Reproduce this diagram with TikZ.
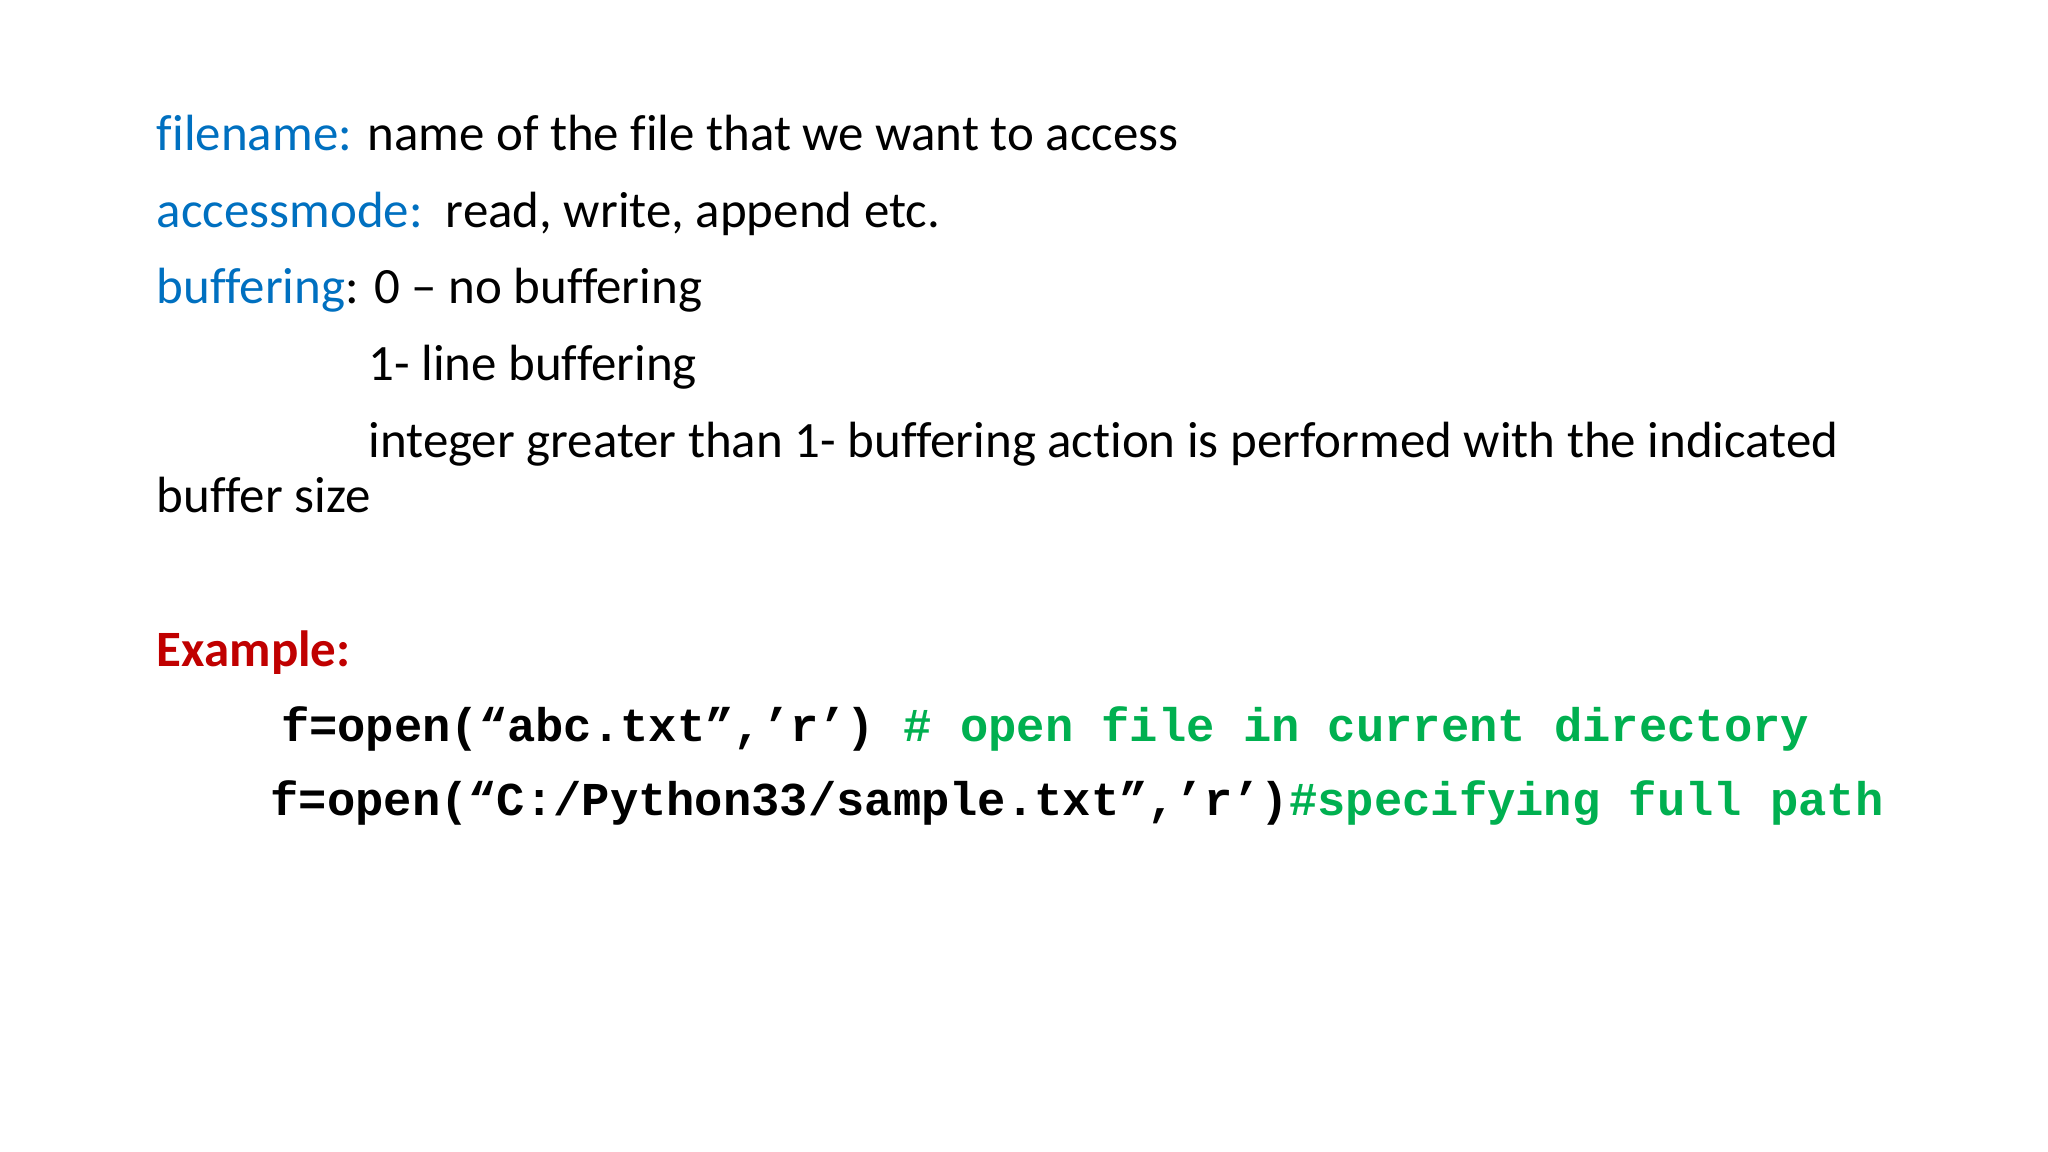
\documentclass[tikz,border=0pt]{standalone}
\usepackage{fontspec}
\setmainfont[Ligatures=NoCommon]{Carlito}
\setmonofont{Liberation Mono}
\definecolor{kblue}{RGB}{0,112,192}
\definecolor{kred}{RGB}{192,0,0}
\definecolor{kgreen}{RGB}{0,176,80}
\begin{document}
\begin{tikzpicture}[x=1pt,y=-1pt,
  txt/.style={anchor=base west,inner sep=0pt,font=\fontsize{39}{44}\selectfont},
  code/.style={anchor=base west,inner sep=0pt,font=\fontsize{36.1}{40}\selectfont\ttfamily\bfseries}]
\fill[white] (0,0) rectangle (1568,882);
\useasboundingbox (0,0) rectangle (1568,882);
\node[txt] (l1) at (120,115) {\textcolor{kblue}{filename:} name of the file that we want to access};
\node[txt] (l2) at (120,174) {\textcolor{kblue}{accessmode:}\ \ read, write, append etc.};
\node[txt] (l3) at (120,232) {\textcolor{kblue}{buffering}: 0 – no buffering};
\node[txt] (l4) at (282,291) {1- line buffering};
\node[txt] (l5) at (282,350) {integer greater than 1- buffering action is performed with the indicated};
\node[txt] (l6) at (120,392) {buffer size};
\node[txt,text=kred,font=\fontsize{39}{44}\selectfont\bfseries] (ex) at (120,510) {Example:};
\node[code] (c1) at (215,568) {f=open(“abc.txt”,’r’) \textcolor{kgreen}{\# open file in current directory}};
\node[code] (c2) at (207,624) {f=open(“C:/Python33/sample.txt”,’r’)\textcolor{kgreen}{\#specifying full path}};
\end{tikzpicture}
\end{document}
